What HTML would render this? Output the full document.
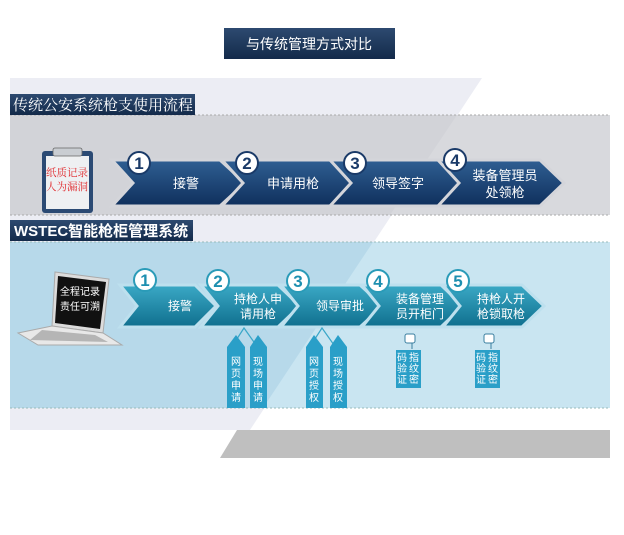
<!DOCTYPE html>
<html><head><meta charset="utf-8"><style>
html,body{margin:0;padding:0;background:#fff;}
svg{display:block;font-family:"Liberation Sans","Noto Sans CJK SC",sans-serif;}
</style></head><body>
<svg width="624" height="535" viewBox="0 0 624 535" xmlns="http://www.w3.org/2000/svg">
<defs>
<linearGradient id="nav" x1="0" y1="0" x2="0" y2="1"><stop offset="0" stop-color="#2f5f93"/><stop offset="1" stop-color="#0f2f5c"/></linearGradient>
<linearGradient id="tl" x1="0" y1="0" x2="0" y2="1"><stop offset="0" stop-color="#3ba9c6"/><stop offset="1" stop-color="#0f6f8e"/></linearGradient>
<linearGradient id="hd" x1="0" y1="0" x2="0" y2="1"><stop offset="0" stop-color="#2d4a70"/><stop offset="1" stop-color="#132a4a"/></linearGradient>
</defs>
<rect width="624" height="535" fill="#fff"/>
<rect x="224" y="28" width="171" height="31" fill="url(#hd)"/>
<text x="309" y="49" fill="#fff" font-size="14" text-anchor="middle">与传统管理方式对比</text>
<polygon points="10,78 482,78 250,430 10,430" fill="#ecedf4"/>
<rect x="10" y="115" width="600" height="100" fill="#d8d9dd"/>
<polygon points="10,115 457,115 390,215 10,215" fill="#d2d3d8"/>
<line x1="10" y1="115" x2="610" y2="115" stroke="#aaa" stroke-dasharray="2,2"/>
<line x1="10" y1="215" x2="610" y2="215" stroke="#aaa" stroke-dasharray="2,2"/>
<rect x="10" y="94" width="185" height="21" fill="url(#hd)"/>
<text x="13" y="110" fill="#fff" font-size="15" font-family="Liberation Serif,Noto Serif CJK SC,serif">传统公安系统枪支使用流程</text>
<rect x="42" y="151" width="51" height="62" rx="3" fill="#2b4a74"/>
<rect x="46" y="156" width="43" height="53" fill="#eef0f2"/>
<rect x="53" y="148" width="29" height="8" rx="2" fill="#c9cdd2" stroke="#666" stroke-width="0.8"/>
<text x="67" y="176" fill="#e0282c" font-size="10.5" text-anchor="middle" font-family="Liberation Serif,Noto Serif CJK SC,serif">纸质记录</text>
<text x="67" y="190" fill="#e0282c" font-size="10.5" text-anchor="middle" font-family="Liberation Serif,Noto Serif CJK SC,serif">人为漏洞</text>
<g fill="url(#nav)" stroke="#d4d5da" stroke-width="3" stroke-linejoin="miter">
<polygon points="112,160 220,160 245,183 220,206 112,206 133,183"/>
<polygon points="222,160 330,160 354,183 330,206 222,206 243,183"/>
<polygon points="330,160 438,160 462,183 438,206 330,206 351,183"/>
<polygon points="438,160 540,160 564,183 540,206 438,206 459,183"/>
</g>
<g fill="#fff" stroke="#1a3a68" stroke-width="2">
<circle cx="139" cy="163" r="11"/><circle cx="247" cy="163" r="11"/><circle cx="355" cy="163" r="11"/><circle cx="455" cy="160" r="11"/>
</g>
<g fill="#1a3a68" font-size="17" font-weight="bold" text-anchor="middle">
<text x="139" y="169">1</text><text x="247" y="169">2</text><text x="355" y="169">3</text><text x="455" y="166">4</text>
</g>
<g fill="#fff" font-size="13" text-anchor="middle">
<text x="186" y="188">接警</text><text x="293" y="188">申请用枪</text><text x="398" y="188">领导签字</text>
<text x="505" y="180">装备管理员</text><text x="505" y="197">处领枪</text>
</g>
<rect x="10" y="242" width="600" height="166" fill="#c9e5f1"/>
<polygon points="10,242 373,242 263,408 10,408" fill="#b7d9ea"/>
<line x1="10" y1="242" x2="610" y2="242" stroke="#9bb" stroke-dasharray="2,2"/>
<line x1="10" y1="408" x2="610" y2="408" stroke="#9bb" stroke-dasharray="2,2"/>
<rect x="10" y="220" width="183" height="21" fill="url(#hd)"/>
<text x="14" y="236" fill="#fff" font-size="15" font-weight="bold">WSTEC智能枪柜管理系统</text>
<polygon points="237,430 610,430 610,458 220,458" fill="#bfbfbf"/>
<polygon points="55,272 109,279 103,333 52,326" fill="#dcdcdc" stroke="#aaa"/>
<polygon points="58,276 106,282 100,329 55,323" fill="#111"/>
<polygon points="52,326 103,333 122,345 38,345 18,333" fill="#e8e8e8" stroke="#aaa"/>
<polygon points="42,330 95,335 108,342 30,340" fill="#b5b5b5"/>
<text x="80" y="295" fill="#fff" font-size="10" text-anchor="middle">全程记录</text>
<text x="80" y="310" fill="#fff" font-size="10" text-anchor="middle">责任可溯</text>
<g fill="url(#tl)" stroke="#bde0ee" stroke-width="3">
<polygon points="120,285 195,285 216,306 195,327 120,327 137,306"/>
<polygon points="201,285 278,285 300,306 278,327 201,327 218,306"/>
<polygon points="281,285 360,285 383,306 360,327 281,327 298,306"/>
<polygon points="362,285 441,285 463,306 441,327 362,327 379,306"/>
<polygon points="443,285 522,285 544,306 522,327 443,327 460,306"/>
</g>
<g fill="#fff" stroke="#2a9bb8" stroke-width="2">
<circle cx="145" cy="280" r="11"/><circle cx="218" cy="281" r="11"/><circle cx="298" cy="281" r="11"/><circle cx="378" cy="281" r="11"/><circle cx="458" cy="281" r="11"/>
</g>
<g fill="#1d8fb0" font-size="17" font-weight="bold" text-anchor="middle">
<text x="145" y="286">1</text><text x="218" y="287">2</text><text x="298" y="287">3</text><text x="378" y="287">4</text><text x="458" y="287">5</text>
</g>
<g fill="#fff" font-size="12" text-anchor="middle">
<text x="180" y="310">接警</text>
<text x="258" y="303">持枪人申</text><text x="258" y="318">请用枪</text>
<text x="340" y="310">领导审批</text>
<text x="420" y="303">装备管理</text><text x="420" y="318">员开柜门</text>
<text x="501" y="303">持枪人开</text><text x="501" y="318">枪锁取枪</text>
</g>
<g stroke="#3aa7c8" stroke-width="1.2" fill="none">
<polyline points="233,345 244,328 256,345"/>
<polyline points="311,345 322,328 334,345"/>
</g>
<g fill="#2a9fc8">
<polygon points="227,347 236,335 245,347 245,408 227,408"/>
<polygon points="250,347 258,335 267,347 267,408 250,408"/>
<polygon points="306,347 314,335 323,347 323,408 306,408"/>
<polygon points="330,347 338,335 347,347 347,408 330,408"/>
<rect x="396" y="350" width="25" height="38"/>
<rect x="475" y="350" width="25" height="38"/>
</g>
<g fill="#fff" font-size="10" text-anchor="middle">
<text x="236" y="365">网</text><text x="236" y="377">页</text><text x="236" y="389">申</text><text x="236" y="401">请</text>
<text x="258" y="365">现</text><text x="258" y="377">场</text><text x="258" y="389">申</text><text x="258" y="401">请</text>
<text x="314" y="365">网</text><text x="314" y="377">页</text><text x="314" y="389">授</text><text x="314" y="401">权</text>
<text x="338" y="365">现</text><text x="338" y="377">场</text><text x="338" y="389">授</text><text x="338" y="401">权</text>
<text x="402" y="361">码</text><text x="402" y="372">验</text><text x="402" y="383">证</text>
<text x="414" y="361">指</text><text x="414" y="372">纹</text><text x="414" y="383">密</text>
<text x="481" y="361">码</text><text x="481" y="372">验</text><text x="481" y="383">证</text>
<text x="493" y="361">指</text><text x="493" y="372">纹</text><text x="493" y="383">密</text>
</g>
<g fill="#fff" stroke="#3a7fa0" stroke-width="1">
<rect x="405" y="334" width="10" height="9" rx="2"/><line x1="412" y1="343" x2="412" y2="349"/>
<rect x="484" y="334" width="10" height="9" rx="2"/><line x1="491" y1="343" x2="491" y2="349"/>
</g>
</svg>
</body></html>
